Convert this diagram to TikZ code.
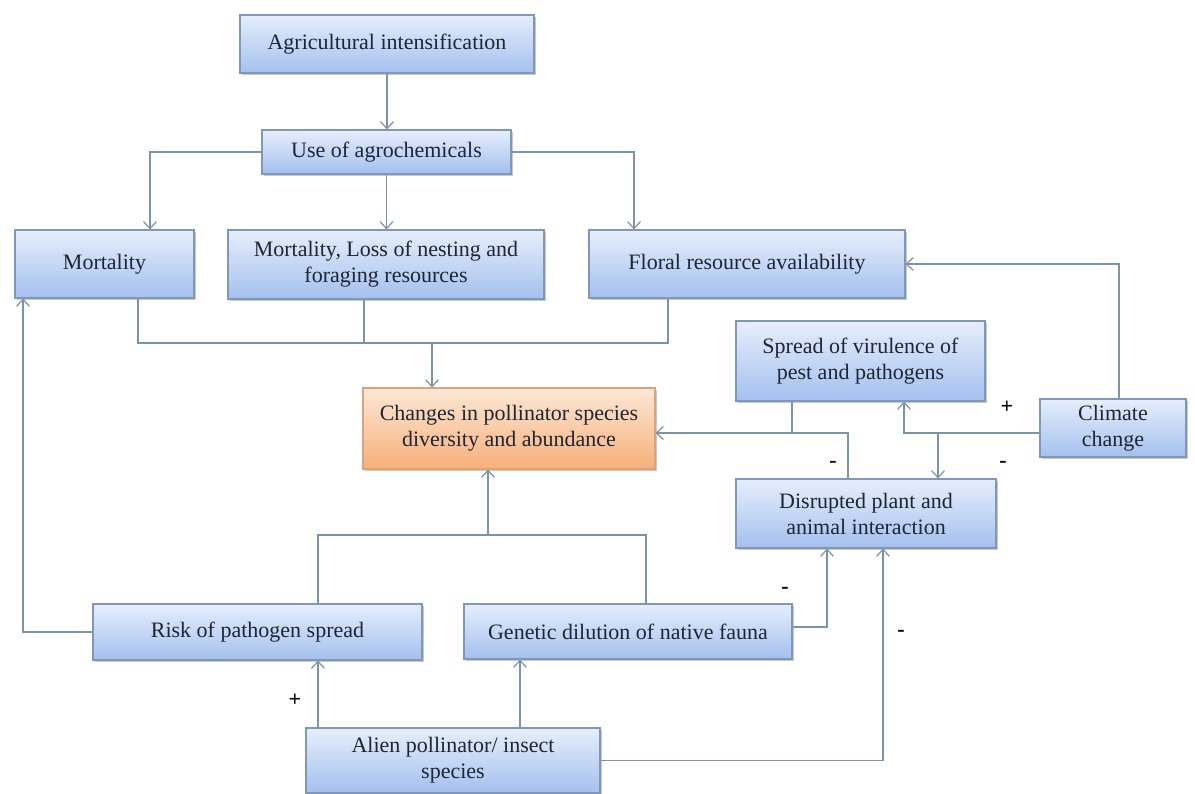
\documentclass[tikz,border=0pt]{standalone}
\usepackage{fontspec}
\setmainfont{Liberation Serif}
\usetikzlibrary{arrows.meta,shadows,calc}
\definecolor{lc}{HTML}{7D93AD}
\definecolor{bord}{HTML}{8197B8}
\definecolor{btop}{HTML}{E6EEFC}
\definecolor{bbot}{HTML}{A4C0EE}
\definecolor{otop}{HTML}{FDE8D6}
\definecolor{obot}{HTML}{F6B07A}
\definecolor{obord}{HTML}{D9A47C}
\definecolor{txt}{HTML}{1E2633}
\begin{document}
\begin{tikzpicture}[x=1pt,y=-1pt,
  box/.style={draw=bord, line width=1.1pt, top color=btop, bottom color=bbot,
    inner sep=0pt, align=center, font=\fontsize{22}{26}\selectfont, text=txt,
    drop shadow={shadow xshift=1.5pt,shadow yshift=-2pt,opacity=0.3,fill=black!70}},
  obox/.style={box, draw=obord, top color=otop, bottom color=obot},
  ln/.style={draw=lc, line width=1.3pt},
  arr/.style={ln, -{Straight Barb[length=7pt,width=13pt,line width=1.2pt]}},
  sign/.style={font=\fontsize{22}{22}\selectfont\bfseries, text=black, inner sep=0pt}]
\useasboundingbox (0,0) rectangle (1195,794);
\fill[white] (0,0) rectangle (1195,794);

\node[box, minimum width=294pt, minimum height=58pt] (agri) at (387,44) {Agricultural intensification};
\node[box, minimum width=249pt, minimum height=44pt] (use) at (386.5,152) {Use of agrochemicals};
\node[box, minimum width=179pt, minimum height=68pt] (mort) at (104.5,264) {Mortality};
\node[box, minimum width=316pt, minimum height=69pt] (mortloss) at (386,264.5) {Mortality, Loss of nesting and\\foraging resources};
\node[box, minimum width=316pt, minimum height=68pt] (floral) at (747,264) {Floral resource availability};
\node[box, minimum width=249pt, minimum height=80pt] (spread) at (860.5,361) {Spread of virulence of\\pest and pathogens};
\node[obox, minimum width=292pt, minimum height=81pt] (changes) at (509,428.5) {Changes in pollinator species\\diversity and abundance};
\node[box, minimum width=146pt, minimum height=58pt] (climate) at (1113,428) {Climate\\change};
\node[box, minimum width=260pt, minimum height=69pt] (disrupted) at (866,513.5) {Disrupted plant and\\animal interaction};
\node[box, minimum width=329pt, minimum height=56pt] (risk) at (257.5,632) {Risk of pathogen spread};
\node[box, minimum width=328pt, minimum height=55pt] (genetic) at (628,631.5) {Genetic dilution of native fauna};
\node[box, minimum width=294pt, minimum height=65pt] (alien) at (453,760.5) {Alien pollinator/ insect\\species};

% top part
\draw[arr] (agri.south) -- (agri.south |- use.north);
\draw[arr] (use.west) -| ([xshift=45.5pt]mort.north);
\draw[arr] (use.south) -- (use.south |- mortloss.north);
\draw[arr] (use.east) -| ([xshift=-113pt]floral.north);

\coordinate (j1) at (432,343);
\draw[ln] ([xshift=33.5pt]mort.south) |- (j1) -| ([xshift=-79pt]floral.south);
\draw[ln] ([xshift=-22pt]mortloss.south) -- ([xshift=-22pt]mortloss.south |- j1);
\draw[arr] (j1) -- (j1 |- changes.north);

% climate
\draw[arr] ([xshift=6pt]climate.north) |- (floral.east);
\draw[arr] ([yshift=-5pt]climate.west) -| ([xshift=43.5pt]spread.south);
\coordinate (j2) at (938,433);
\draw[arr] (j2) -- (j2 |- disrupted.north);

% spread / disrupted to changes
\draw[ln] ([xshift=-68.5pt]spread.south) -- ([xshift=-68.5pt]spread.south |- j2);
\draw[arr] ([xshift=-18pt]disrupted.north) |- ([yshift=-4.5pt]changes.east);

% bottom part
\coordinate (j4) at (488,535);
\draw[ln] ([xshift=60.5pt]risk.north) |- (j4) -| ([xshift=18pt]genetic.north);
\draw[arr] (j4) -- (j4 |- changes.south);
\draw[arr] (risk.west) -| ([xshift=-81.5pt]mort.south);
\draw[arr] ([xshift=-135pt]alien.north) -- ([xshift=-135pt]alien.north |- risk.south);
\draw[arr] ([xshift=67pt]alien.north) -- ([xshift=67pt]alien.north |- genetic.south);
\draw[arr] ([yshift=4.5pt]genetic.east) -| ([xshift=-39pt]disrupted.south);
\draw[arr] (alien.east) -| ([xshift=17pt]disrupted.south);

% signs
\node[sign] (s1) at (1007,407) {+};
\node[sign] (s2) at (833,464) {-};
\node[sign] (s3) at (1003,464) {-};
\node[sign] (s4) at (785,590) {-};
\node[sign] (s5) at (901,633) {-};
\node[sign] (s6) at (295,700) {+};
\end{tikzpicture}
\end{document}
